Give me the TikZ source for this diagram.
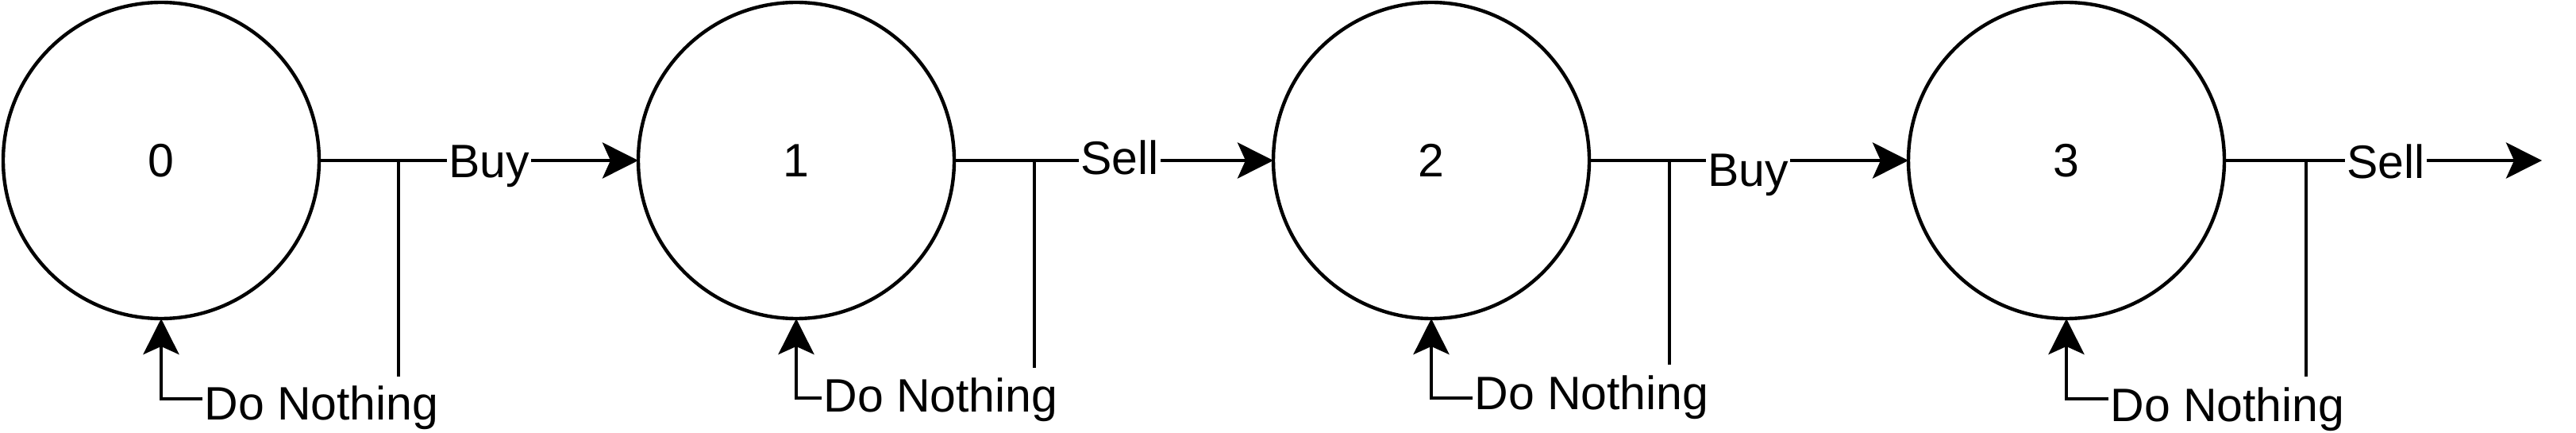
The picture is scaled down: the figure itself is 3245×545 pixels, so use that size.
\documentclass[tikz,border=0pt]{standalone}
\usepackage{fontspec}
\setmainfont{Liberation Sans}
\usetikzlibrary{arrows.meta}
\begin{document}
\begin{tikzpicture}[x=0.5pt,y=-0.5pt,
  state/.style={circle,draw,line width=2.2pt,minimum size=199pt,inner sep=0pt,outer sep=0pt,font=\fontsize{29.5}{34}\selectfont},
  conn/.style={line width=2.4pt},
  arr/.style={conn,-{Stealth[length=22.5pt,width=22.5pt,inset=5pt]}},
  lbl/.style={anchor=base west,fill=white,inner sep=0pt,inner xsep=1pt,font=\fontsize{29.5}{34}\selectfont},
  dn/.style={anchor=base west,inner sep=0pt,inner xsep=1pt,font=\fontsize{29.5}{34}\selectfont}]
\useasboundingbox (0,0) rectangle (3245,545);

% states
\node[state] (c0) at (203,202) {0};
\node[state] (c1) at (1003,202) {1};
\node[state] (c2) at (1803,202) {2};
\node[state] (c3) at (2603,202) {3};
\coordinate (end) at (3202,202);

% transitions
\draw[arr] (c0.east) -- (c1.west);
\draw[arr] (c1.east) -- (c2.west);
\draw[arr] (c2.east) -- (c3.west);
\draw[arr] (c3.east) -- (end);

% T branches
\coordinate (t0) at (502,474);
\coordinate (t1) at (1303,463);
\coordinate (t2) at (2103,459);
\coordinate (t3) at (2905,474);
\draw[conn] (c0.east -| t0) -- (t0);
\draw[conn] (c1.east -| t1) -- (t1);
\draw[conn] (c2.east -| t2) -- (t2);
\draw[conn] (c3.east -| t3) -- (t3);

% edge labels
\node[lbl] (l0) at (563,224) {Buy};
\node[lbl] (l1) at (1359,220) {Sell};
\node[lbl] (l2) at (2149,235) {Buy};
\node[lbl] (l3) at (2954,225) {Sell};

% do nothing loops
\node[dn] (d0) at (255,528) {Do Nothing};
\node[dn] (d1) at (1035,518) {Do Nothing};
\node[dn] (d2) at (1855,515) {Do Nothing};
\node[dn] (d3) at (2656,530) {Do Nothing};
\coordinate (k0) at (203,502);
\coordinate (k1) at (1003,501);
\coordinate (k2) at (1803,501);
\coordinate (k3) at (2603,502);
\draw[arr] (d0.west |- k0) -- (k0) -- (c0.south);
\draw[arr] (d1.west |- k1) -- (k1) -- (c1.south);
\draw[arr] (d2.west |- k2) -- (k2) -- (c2.south);
\draw[arr] (d3.west |- k3) -- (k3) -- (c3.south);
\end{tikzpicture}
\end{document}
